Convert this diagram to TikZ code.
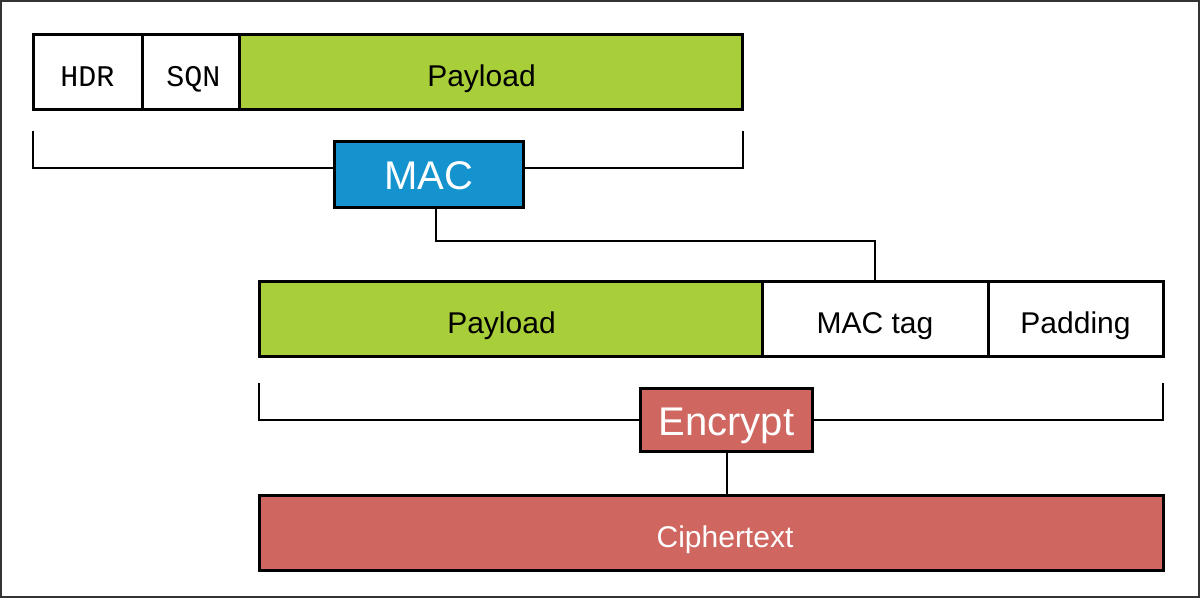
\documentclass[tikz,border=0pt]{standalone}
\usepackage{fontspec}
\setmainfont{Liberation Sans}
\newfontfamily\hdrfont{Liberation Mono}

\definecolor{paycolor}{rgb}{0.659, 0.808, 0.227}
\definecolor{maccolor}{rgb}{0.078, 0.576, 0.812}
\definecolor{enccolor}{rgb}{0.812, 0.400, 0.376}
\definecolor{framecolor}{rgb}{0.200, 0.200, 0.200}

\tikzset{
  field/.style={rectangle, draw=black, line width=3pt, inner sep=0pt, outer sep=0pt,
    minimum height=75pt, text height=29pt, text depth=0pt, font=\fontsize{30}{36}\selectfont},
  opbox/.style={rectangle, draw=black, line width=3pt, inner sep=0pt, outer sep=0pt,
    text height=31pt, text depth=0pt, text=white, font=\fontsize{40}{48}\selectfont},
  link/.style={draw=black, line width=2pt},
}

\begin{document}
\begin{tikzpicture}[x=1pt, y=-1pt]
\useasboundingbox (0,0) rectangle (1200,598);
\draw[framecolor, line width=2pt] (1,1) rectangle (1199,597);

% plaintext record
\node[field, minimum width=109pt] (hdr) at (87.5,71.5) {\hdrfont HDR};
\node[field, minimum width=97pt] (sqn) at (190.5,71.5) {\kern6pt\hdrfont SQN};
\node[field, fill=paycolor, minimum width=503pt] (pay1) at (490.5,71.5) {Payload\kern18pt};

% mac over the whole record
\coordinate (bracketl1) at (33,131);
\coordinate (bracketr1) at (743,131);
\node[opbox, fill=maccolor, minimum width=189pt, minimum height=66pt] (mac) at (428.5,174) {MAC};
\draw[link] (bracketl1) |- ([yshift=6pt]mac.west);
\draw[link] (bracketr1) |- ([yshift=6pt]mac.east);

% payload, tag and padding
\node[field, fill=paycolor, minimum width=503pt] (pay2) at (510.5,318.5) {Payload\kern18pt};
\node[field, minimum width=226pt] (tag) at (875,318.5) {MAC tag};
\node[field, minimum width=175pt] (pad) at (1075.5,318.5) {Padding};
\draw[link] ([xshift=7pt]mac.south) -- ++(0,34) -| (tag.north);

% encryption
\coordinate (bracketl2) at (259,383);
\coordinate (bracketr2) at (1163,383);
\node[opbox, fill=enccolor, minimum width=172pt, minimum height=63pt] (enc) at (726.5,420) {Encrypt};
\draw[link] (bracketl2) |- (enc.west);
\draw[link] (bracketr2) |- (enc.east);

\node[field, fill=enccolor, text=white, minimum width=904pt] (cipher) at (711,532.5) {\kern28pt Ciphertext};
\draw[link] (enc.south) -- (enc.south |- cipher.north);
\end{tikzpicture}
\end{document}
